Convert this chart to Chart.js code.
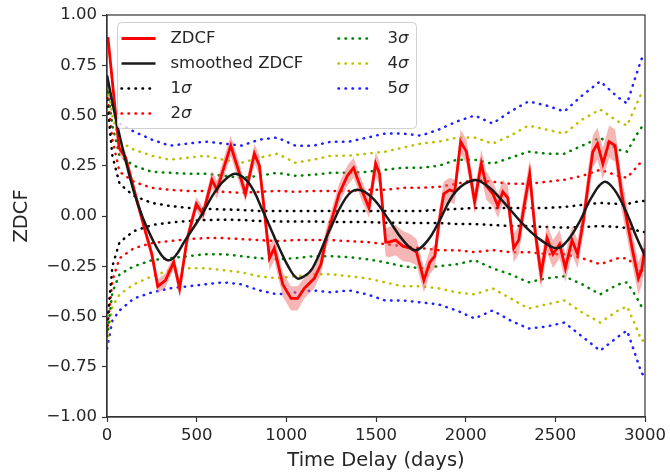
<!DOCTYPE html>
<html>
<head>
<meta charset="utf-8">
<script src="https://cdn.jsdelivr.net/npm/chart.js@4.4.1/dist/chart.umd.min.js"></script>
<style>
  body { margin: 0; background: #fff; }
  #wrap { width: 670px; height: 474px; }
</style>
</head>
<body>
<div id="wrap"><canvas id="zdcfChart" width="670" height="474"></canvas></div>
<script>
// ZDCF (lag in days, value, half width of the error band)
const zdcfLag = [5, 67, 104, 160, 215, 250, 283, 326, 372, 405, 446, 498, 535, 585, 613, 690, 739, 772, 822, 850,
  906, 933, 980, 1026, 1063, 1100, 1156, 1193, 1220, 1294, 1340, 1375, 1415, 1461, 1498, 1520, 1554, 1572, 1609, 1650,
  1690, 1726, 1767, 1800, 1828, 1850, 1878, 1911, 1939, 1972, 2004, 2028, 2050, 2087, 2115, 2152, 2180, 2207, 2235, 2268,
  2296, 2324, 2357, 2389, 2420, 2454, 2487, 2524, 2556, 2593, 2624, 2657, 2685, 2709, 2735, 2765, 2800, 2833, 2870, 2907,
  2935, 2963, 2981, 3000];
const zdcfVal = [0.89, 0.34, 0.29, 0.10, -0.08, -0.19, -0.35, -0.32, -0.23, -0.36, -0.12, 0.06, 0.01, 0.18, 0.13, 0.35, 0.21, 0.11, 0.31, 0.25,
  -0.21, -0.16, -0.34, -0.41, -0.41, -0.36, -0.31, -0.24, -0.12, 0.11, 0.20, 0.24, 0.14, 0.04, 0.26, 0.21, -0.13, -0.13, -0.12, -0.15,
  -0.16, -0.18, -0.32, -0.23, -0.20, -0.04, 0.11, 0.13, 0.12, 0.37, 0.32, 0.19, 0.07, 0.26, 0.15, 0.11, 0.05, 0.12, 0.09, -0.16,
  -0.12, 0.04, 0.21, -0.09, -0.29, -0.11, -0.19, -0.14, -0.26, -0.12, -0.19, -0.02, 0.17, 0.32, 0.36, 0.26, 0.37, 0.35, 0.11, -0.06,
  -0.19, -0.31, -0.27, -0.16];
const zdcfErr = [0.02, 0.03, 0.03, 0.03, 0.03, 0.03, 0.035, 0.035, 0.035, 0.045, 0.035, 0.035, 0.035, 0.045, 0.045, 0.05, 0.05, 0.04, 0.05, 0.05,
  0.06, 0.06, 0.06, 0.06, 0.06, 0.05, 0.05, 0.05, 0.05, 0.05, 0.05, 0.05, 0.05, 0.05, 0.06, 0.06, 0.07, 0.075, 0.075, 0.075,
  0.07, 0.065, 0.06, 0.06, 0.06, 0.06, 0.06, 0.06, 0.06, 0.06, 0.06, 0.06, 0.06, 0.07, 0.07, 0.06, 0.06, 0.06, 0.06, 0.07,
  0.07, 0.07, 0.07, 0.07, 0.07, 0.07, 0.07, 0.07, 0.07, 0.07, 0.07, 0.07, 0.08, 0.08, 0.08, 0.08, 0.08, 0.08, 0.08, 0.08,
  0.08, 0.08, 0.08, 0.08];

// smoothed ZDCF
const smoothLag = [0, 50, 100, 150, 200, 250, 300, 340, 380, 433, 517, 609, 670, 720, 794, 869, 961, 1010, 1060, 1100,
  1146, 1239, 1332, 1396, 1480, 1572, 1650, 1720, 1790, 1850, 1943, 2044, 2120, 2200, 2250, 2330, 2420, 2509, 2570, 2640,
  2700, 2772, 2830, 2900, 2950, 3000];
const smoothVal = [0.70, 0.48, 0.29, 0.12, -0.01, -0.11, -0.19, -0.22, -0.20, -0.125, -0.01, 0.13, 0.19, 0.21, 0.16, 0.025, -0.16, -0.25, -0.31, -0.30,
  -0.26, -0.075, 0.09, 0.13, 0.09, -0.02, -0.12, -0.17, -0.12, -0.03, 0.12, 0.178, 0.15, 0.08, 0.03, -0.05, -0.12, -0.16, -0.12, -0.02,
  0.09, 0.17, 0.13, 0.01, -0.10, -0.20];

// significance levels
const sigmaLag = [0, 30, 70, 150, 250, 350, 450, 550, 650, 750, 850, 950, 1050, 1150, 1250, 1350, 1450, 1550, 1650, 1750,
  1850, 1950, 2050, 2150, 2250, 2350, 2450, 2550, 2650, 2750, 2850, 2900, 2950, 2980, 3000];
const sig1Up = [0.58, 0.30, 0.16, 0.10, 0.065, 0.05, 0.04, 0.035, 0.033, 0.03, 0.025, 0.025, 0.025, 0.025, 0.025, 0.025, 0.025, 0.025, 0.025, 0.025,
  0.03, 0.035, 0.04, 0.04, 0.04, 0.04, 0.04, 0.045, 0.055, 0.065, 0.06, 0.06, 0.07, 0.075, 0.075];
const sig1Lo = [-0.55, -0.25, -0.13, -0.075, -0.045, -0.033, -0.025, -0.02, -0.018, -0.02, -0.025, -0.027, -0.027, -0.027, -0.03, -0.03, -0.03, -0.033, -0.033, -0.035,
  -0.035, -0.04, -0.04, -0.045, -0.05, -0.05, -0.055, -0.058, -0.055, -0.05, -0.055, -0.06, -0.07, -0.08, -0.08];
const sig2Up = [0.62, 0.38, 0.22, 0.17, 0.14, 0.13, 0.125, 0.125, 0.12, 0.115, 0.12, 0.125, 0.12, 0.125, 0.125, 0.125, 0.13, 0.13, 0.14, 0.14,
  0.145, 0.16, 0.18, 0.17, 0.16, 0.16, 0.17, 0.18, 0.20, 0.23, 0.20, 0.19, 0.24, 0.27, 0.27];
const sig2Lo = [-0.58, -0.32, -0.21, -0.16, -0.135, -0.125, -0.115, -0.11, -0.11, -0.115, -0.12, -0.125, -0.12, -0.12, -0.12, -0.125, -0.13, -0.14, -0.15, -0.16,
  -0.17, -0.17, -0.18, -0.17, -0.18, -0.18, -0.19, -0.19, -0.21, -0.24, -0.21, -0.21, -0.25, -0.28, -0.28];
const sig3Up = [0.65, 0.45, 0.30, 0.25, 0.22, 0.215, 0.21, 0.21, 0.20, 0.19, 0.20, 0.215, 0.20, 0.205, 0.215, 0.215, 0.22, 0.23, 0.24, 0.24,
  0.25, 0.28, 0.28, 0.26, 0.29, 0.32, 0.31, 0.31, 0.35, 0.39, 0.33, 0.32, 0.40, 0.44, 0.44];
const sig3Lo = [-0.60, -0.38, -0.29, -0.25, -0.22, -0.21, -0.20, -0.19, -0.19, -0.20, -0.21, -0.215, -0.21, -0.20, -0.20, -0.205, -0.215, -0.23, -0.25, -0.26,
  -0.25, -0.24, -0.22, -0.26, -0.29, -0.33, -0.31, -0.30, -0.34, -0.39, -0.34, -0.33, -0.40, -0.45, -0.45];
const sig4Up = [0.67, 0.50, 0.37, 0.33, 0.30, 0.28, 0.29, 0.30, 0.28, 0.265, 0.29, 0.31, 0.265, 0.28, 0.30, 0.30, 0.31, 0.32, 0.34, 0.36,
  0.37, 0.39, 0.39, 0.36, 0.40, 0.45, 0.43, 0.41, 0.48, 0.53, 0.47, 0.45, 0.55, 0.61, 0.60];
const sig4Lo = [-0.63, -0.45, -0.39, -0.34, -0.30, -0.27, -0.26, -0.26, -0.27, -0.28, -0.30, -0.31, -0.30, -0.29, -0.29, -0.30, -0.31, -0.33, -0.35, -0.35,
  -0.36, -0.38, -0.39, -0.36, -0.41, -0.46, -0.44, -0.42, -0.48, -0.53, -0.47, -0.45, -0.55, -0.62, -0.62];
const sig5Up = [0.69, 0.55, 0.46, 0.42, 0.38, 0.35, 0.36, 0.37, 0.36, 0.35, 0.38, 0.39, 0.35, 0.35, 0.37, 0.37, 0.39, 0.41, 0.41, 0.40,
  0.43, 0.47, 0.50, 0.46, 0.52, 0.57, 0.55, 0.52, 0.60, 0.67, 0.59, 0.56, 0.70, 0.78, 0.80];
const sig5Lo = [-0.66, -0.52, -0.47, -0.41, -0.38, -0.36, -0.35, -0.34, -0.33, -0.34, -0.37, -0.39, -0.38, -0.37, -0.38, -0.37, -0.39, -0.42, -0.42, -0.43,
  -0.44, -0.47, -0.51, -0.47, -0.52, -0.56, -0.55, -0.53, -0.60, -0.67, -0.60, -0.57, -0.70, -0.78, -0.80];

const xTicks = [0, 500, 1000, 1500, 2000, 2500, 3000];
const yTicks = [-1, -0.75, -0.5, -0.25, 0, 0.25, 0.5, 0.75, 1];

const pts = (xs, ys) => xs.map((x, i) => ({ x: x, y: ys[i] }));

const FONT = 'DejaVu Sans';
const TXT = '#262626';

const levels = [
  { label: '1σ', color: '#000000', up: sig1Up, lo: sig1Lo },
  { label: '2σ', color: '#ff0000', up: sig2Up, lo: sig2Lo },
  { label: '3σ', color: '#008000', up: sig3Up, lo: sig3Lo },
  { label: '4σ', color: '#bfbf00', up: sig4Up, lo: sig4Lo },
  { label: '5σ', color: '#2020ff', up: sig5Up, lo: sig5Lo }
];

const datasets = [
  { label: 'smoothed ZDCF', data: pts(smoothLag, smoothVal), borderColor: '#1a1a1a', borderWidth: 2.5, tension: 0.4, order: 0 },
  { label: 'ZDCF', data: pts(zdcfLag, zdcfVal), borderColor: '#ff0000', borderWidth: 2.8, tension: 0, order: 1 },
  { label: 'band_hi', data: pts(zdcfLag, zdcfVal.map((v, i) => v + zdcfErr[i])), borderWidth: 0, borderColor: 'rgba(0,0,0,0)', tension: 0, order: 2, fill: false },
  { label: 'band_lo', data: pts(zdcfLag, zdcfVal.map((v, i) => v - zdcfErr[i])), borderWidth: 0, borderColor: 'rgba(0,0,0,0)', tension: 0, order: 2,
    fill: { target: 2 }, backgroundColor: 'rgba(240, 110, 110, 0.5)' }
];
levels.forEach((lv, k) => {
  [lv.up, lv.lo].forEach((arr, j) => {
    datasets.push({
      label: j === 0 ? lv.label : lv.label + '_lo',
      data: pts(sigmaLag, arr),
      borderColor: lv.color,
      borderWidth: 2.5,
      borderDash: [0.5, 6.5],
      borderCapStyle: 'round',
      tension: 0,
      order: 3 + k
    });
  });
});

// frame and two-column legend drawn like matplotlib
const framePlugin = {
  id: 'frame',
  afterDraw(chart) {
    const { ctx, chartArea: a } = chart;
    ctx.save();
    ctx.strokeStyle = '#333';
    ctx.lineWidth = 1.2;
    ctx.strokeRect(a.left, a.top, a.right - a.left, a.bottom - a.top);

    const bx = a.left + 10.5, by = a.top + 7.5, bw = 299, bh = 106;
    ctx.beginPath();
    ctx.roundRect(bx, by, bw, bh, 4);
    ctx.fillStyle = 'rgba(255,255,255,0.8)';
    ctx.fill();
    ctx.strokeStyle = '#d0d0d0';
    ctx.lineWidth = 1;
    ctx.stroke();

    const entries = [
      { ds: chart.data.datasets[1], col: 0, row: 0 },
      { ds: chart.data.datasets[0], col: 0, row: 1 },
      { ds: chart.data.datasets[4], col: 0, row: 2 },
      { ds: chart.data.datasets[6], col: 0, row: 3 },
      { ds: chart.data.datasets[8], col: 1, row: 0 },
      { ds: chart.data.datasets[10], col: 1, row: 1 },
      { ds: chart.data.datasets[12], col: 1, row: 2 }
    ];
    entries.forEach(e => {
      const hx = bx + (e.col === 0 ? 4 : 221);
      const y = by + 16 + e.row * 25;
      ctx.beginPath();
      ctx.setLineDash(e.ds.borderDash || []);
      ctx.lineCap = e.ds.borderCapStyle || 'butt';
      ctx.strokeStyle = e.ds.borderColor;
      ctx.lineWidth = e.ds.borderWidth;
      ctx.moveTo(hx, y);
      ctx.lineTo(hx + 34, y);
      ctx.stroke();
      ctx.setLineDash([]);
      ctx.fillStyle = TXT;
      ctx.textBaseline = 'middle';
      ctx.textAlign = 'left';
      const tx = hx + 49;
      const label = e.ds.label;
      if (label.endsWith('σ')) {
        const num = label.slice(0, -1);
        ctx.font = '16.5px ' + FONT;
        ctx.fillText(num, tx, y);
        const w = ctx.measureText(num).width;
        ctx.font = 'italic 16.5px ' + FONT;
        ctx.fillText('σ', tx + w, y);
      } else {
        ctx.font = '16.5px ' + FONT;
        ctx.fillText(label, tx, y);
      }
    });
    ctx.restore();
  }
};

new Chart(document.getElementById('zdcfChart'), {
  type: 'line',
  data: { datasets: datasets },
  options: {
    responsive: false,
    animation: false,
    elements: { point: { radius: 0 } },
    layout: { padding: { left: 0, right: 24, top: 15, bottom: 0 } },
    plugins: { legend: { display: false }, tooltip: { enabled: false } },
    scales: {
      x: {
        type: 'linear',
        min: 0, max: 3000,
        afterFit: s => { s.height = 57; },
        afterBuildTicks: s => { s.ticks = xTicks.map(v => ({ value: v })); },
        ticks: {
          autoSkip: false, maxRotation: 0, padding: 4, color: TXT, font: { family: FONT, size: 16.5 },
          callback: v => String(v)
        },
        grid: { drawOnChartArea: false, drawTicks: true, tickLength: 5, tickColor: '#333', tickWidth: 1.2 },
        border: { display: true, color: '#333', width: 1.2 },
        title: { display: true, text: 'Time Delay (days)', color: TXT, font: { family: FONT, size: 19.5 }, padding: { top: 0, bottom: 1 } }
      },
      y: {
        min: -1, max: 1,
        afterFit: s => { s.width = 107; },
        afterBuildTicks: s => { s.ticks = yTicks.map(v => ({ value: v })); },
        ticks: {
          autoSkip: false, padding: 5, color: TXT, font: { family: FONT, size: 16.5 },
          callback: v => v.toFixed(2).replace('-', '\u2212')
        },
        grid: { drawOnChartArea: false, drawTicks: true, tickLength: 5, tickColor: '#333', tickWidth: 1.2 },
        border: { display: true, color: '#333', width: 1.2 },
        title: { display: true, text: 'ZDCF', color: TXT, font: { family: FONT, size: 19.5 }, padding: { top: 10, bottom: 0 } }
      }
    }
  },
  plugins: [framePlugin]
});
</script>
</body>
</html>
